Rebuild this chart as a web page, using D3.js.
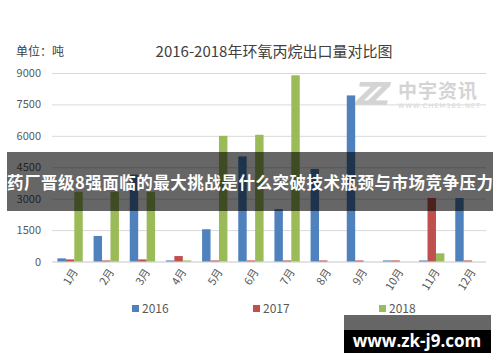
<!DOCTYPE html>
<html>
<head>
<meta charset="utf-8">
<script src="https://cdn.jsdelivr.net/npm/d3@7"></script>
<style>
  body { margin: 0; background: #fff; }
  svg { display: block; font-family: "Microsoft YaHei", "Noto Sans CJK SC", sans-serif; }
</style>
</head>
<body>
<svg class="chart"></svg>
<script>
// data
const months = ['1月', '2月', '3月', '4月', '5月', '6月', '7月', '8月', '9月', '10月', '11月', '12月'];
const years = ['2016', '2017', '2018'];
const values2016 = [150, 1220, 4150, 50, 1540, 5020, 2500, 4420, 7930, 50, 50, 3030];
const values2017 = [100, 50, 100, 260, 50, 50, 50, 50, 50, 50, 3030, 50];
const values2018 = [3330, 3330, 3330, 50, 6000, 6050, 8890, 0, 0, 0, 390, 0];
const yTicks = [0, 1500, 3000, 4500, 6000, 7500, 9000];
const colors = ['#4F81BD', '#C0504D', '#9BBB59'];

const svgWidth = 500;
const svgHeight = 362;
const svg = d3.select('.chart')
  .attr('width', svgWidth)
  .attr('height', svgHeight);

const plot = { left: 52, right: 486, top: 73, bottom: 261.5 };

const xScale = d3.scaleBand()
  .domain(months)
  .range([plot.left, plot.right])
  .paddingInner(0.3)
  .paddingOuter(0.15);

const subScale = d3.scaleBand()
  .domain(years)
  .range([0, xScale.bandwidth()]);

const yScale = d3.scaleLinear()
  .domain([0, 9000])
  .range([plot.bottom, plot.top]);

// title and unit
svg.append('text')
  .attr('x', 274)
  .attr('y', 57)
  .attr('text-anchor', 'middle')
  .attr('font-size', '15px')
  .attr('fill', '#404040')
  .text('2016-2018年环氧丙烷出口量对比图');

svg.append('text')
  .attr('x', 16)
  .attr('y', 56)
  .attr('font-size', '12px')
  .attr('fill', '#404040')
  .text('单位：吨');

// watermark logo top right
const logo = svg.append('g').attr('fill', '#d4d4d4');
logo.append('text')
  .attr('x', 356)
  .attr('y', 105)
  .attr('font-size', '32px')
  .attr('font-weight', 'bold')
  .attr('font-style', 'italic')
  .attr('letter-spacing', '-12px')
  .attr('font-family', 'DejaVu Sans')
  .text('ZZ');
logo.append('text')
  .attr('x', 398)
  .attr('y', 98)
  .attr('font-size', '19px')
  .attr('font-weight', 'bold')
  .attr('letter-spacing', '1px')
  .text('中宇资讯');
logo.append('text')
  .attr('x', 398)
  .attr('y', 108)
  .attr('font-size', '6.5px')
  .attr('font-family', 'DejaVu Sans')
  .attr('textLength', 82)
  .text('WWW.CHEM365.NET');

// y axis with gridlines
const yAxis = svg.append('g')
  .attr('transform', 'translate(' + plot.left + ',0)')
  .call(d3.axisLeft(yScale)
    .tickValues(yTicks)
    .tickSize(-(plot.right - plot.left))
    .tickPadding(11)
    .tickFormat(d3.format('d')));
yAxis.select('.domain').remove();
yAxis.selectAll('line').attr('stroke', '#d9d9d9');
yAxis.selectAll('text')
  .attr('font-size', '11px')
  .attr('fill', '#595959')
  .attr('font-family', '"Microsoft YaHei", "Noto Sans CJK SC", sans-serif');

// x axis
const xAxis = svg.append('g')
  .attr('transform', 'translate(0,' + plot.bottom + ')')
  .call(d3.axisBottom(xScale).tickSize(0).tickPadding(10));
xAxis.select('.domain').attr('stroke', '#d9d9d9');
xAxis.selectAll('text')
  .attr('font-size', '11px')
  .attr('fill', '#595959')
  .attr('font-family', '"Microsoft YaHei", "Noto Sans CJK SC", sans-serif')
  .attr('text-anchor', 'end')
  .attr('dy', '0.3em')
  .attr('transform', 'translate(-3,3) rotate(-58)');

// bars
const seriesData = [values2016, values2017, values2018];
seriesData.forEach(function (vals, i) {
  svg.append('g')
    .selectAll('rect')
    .data(vals)
    .enter()
    .append('rect')
    .attr('x', (d, j) => xScale(months[j]) + subScale(years[i]))
    .attr('y', d => yScale(d))
    .attr('width', subScale.bandwidth())
    .attr('height', d => plot.bottom - yScale(d))
    .attr('fill', colors[i]);
});

// legend
const legendX = [132, 253, 379];
const legend = svg.append('g');
years.forEach(function (y, i) {
  legend.append('rect')
    .attr('x', legendX[i])
    .attr('y', 305)
    .attr('width', 7)
    .attr('height', 7)
    .attr('fill', colors[i]);
  legend.append('text')
    .attr('x', legendX[i] + 10)
    .attr('y', 313)
    .attr('font-size', '12px')
    .attr('fill', '#595959')
    .text(y);
});

// headline banner over the chart
svg.append('rect')
  .attr('x', 7)
  .attr('y', 152)
  .attr('width', 486)
  .attr('height', 59)
  .attr('fill', '#000')
  .attr('opacity', 0.6);
svg.append('text')
  .attr('x', 250)
  .attr('y', 189)
  .attr('text-anchor', 'middle')
  .attr('font-size', '16.5px')
  .attr('font-weight', 'bold')
  .attr('fill', '#fff')
  .attr('textLength', 486)
  .text('药厂晋级8强面临的最大挑战是什么突破技术瓶颈与市场竞争压力');

// bottom right site stamp
svg.append('rect')
  .attr('x', 344)
  .attr('y', 315)
  .attr('width', 147)
  .attr('height', 15)
  .attr('fill', '#666');
svg.append('rect')
  .attr('x', 344)
  .attr('y', 330)
  .attr('width', 147)
  .attr('height', 23)
  .attr('fill', '#000');
svg.append('text')
  .attr('x', 417)
  .attr('y', 347)
  .attr('text-anchor', 'middle')
  .attr('font-size', '17px')
  .attr('font-weight', 'bold')
  .attr('fill', '#fff')
  .attr('font-family', '"Open Sans", "DejaVu Sans", sans-serif')
  .text('www.zk-j9.com');
</script>
</body>
</html>
